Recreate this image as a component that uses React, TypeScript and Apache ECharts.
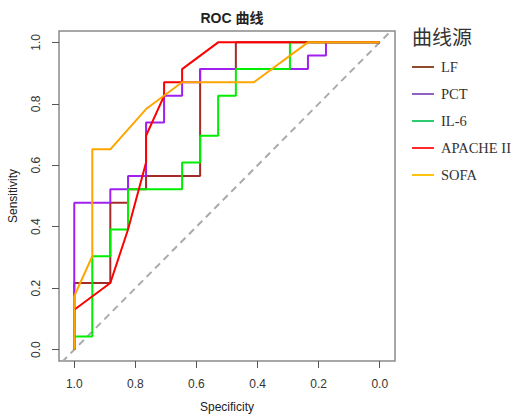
import React, { useEffect, useRef } from "react";
import * as echarts from "echarts";

const seriesNames = ["LF", "PCT", "IL-6", "APACHE II", "SOFA"];
const lineColors = ["#a52a2a", "#a020f0", "#00ee00", "#ff0000", "#ffa500"];
const legendColors = ["#8e4c2c", "#9060c4", "#2ecc71", "#ff2a2a", "#ffc20e"];

const lfSpec = [1, 1, 0.882, 0.882, 0.824, 0.824, 0.765, 0.765, 0.588, 0.588, 0.471, 0.471, 0];
const lfSens = [0, 0.217, 0.217, 0.478, 0.478, 0.522, 0.522, 0.565, 0.565, 0.913, 0.913, 1, 1];

const pctSpec = [1, 1, 0.882, 0.882, 0.824, 0.824, 0.765, 0.765, 0.706, 0.706, 0.647, 0.647, 0.588, 0.588, 0.235, 0.235, 0.176, 0.176, 0];
const pctSens = [0, 0.478, 0.478, 0.522, 0.522, 0.565, 0.565, 0.739, 0.739, 0.826, 0.826, 0.87, 0.87, 0.913, 0.913, 0.957, 0.957, 1, 1];

const il6Spec = [1, 1, 0.941, 0.941, 0.882, 0.882, 0.824, 0.824, 0.647, 0.647, 0.588, 0.588, 0.529, 0.529, 0.471, 0.471, 0.294, 0.294, 0];
const il6Sens = [0, 0.043, 0.043, 0.304, 0.304, 0.391, 0.391, 0.522, 0.522, 0.609, 0.609, 0.696, 0.696, 0.826, 0.826, 0.913, 0.913, 1, 1];

const apacheSpec = [1, 1, 0.882, 0.824, 0.765, 0.765, 0.706, 0.706, 0.647, 0.647, 0.529, 0];
const apacheSens = [0, 0.13, 0.217, 0.391, 0.609, 0.696, 0.826, 0.87, 0.87, 0.913, 1, 1];

const sofaSpec = [1, 1, 0.941, 0.941, 0.882, 0.765, 0.647, 0.412, 0.235, 0];
const sofaSens = [0, 0.174, 0.304, 0.652, 0.652, 0.783, 0.87, 0.87, 1, 1];

const tickValues = [0, 0.2, 0.4, 0.6, 0.8, 1.0];
const diagSpec = [1.04, -0.04];
const diagSens = [-0.04, 1.04];

const zip = (a: number[], b: number[]) => a.map((v, i) => [v, b[i]]);

const curveData = [
  zip(lfSpec, lfSens),
  zip(pctSpec, pctSens),
  zip(il6Spec, il6Sens),
  zip(apacheSpec, apacheSens),
  zip(sofaSpec, sofaSens),
];

const sans = "'Liberation Sans', Arial, 'Noto Sans CJK SC', sans-serif";
const serif = "'Liberation Serif', 'Times New Roman', serif";

export default function App() {
  const ref = useRef<HTMLDivElement>(null);
  useEffect(() => {
    if (!ref.current) return;
    const chart = echarts.init(ref.current, undefined, { renderer: "svg" });
    const option: any = {
      animation: false,
      backgroundColor: "#ffffff",
      title: {
        text: "ROC 曲线",
        left: 227,
        top: 6,
        textAlign: "center",
        textStyle: { fontFamily: sans, fontSize: 14, fontWeight: "bold", color: "#222" },
      },
      grid: {
        left: 59,
        top: 31,
        width: 336,
        height: 330,
        show: true,
        borderColor: "#8a8a8a",
        borderWidth: 1.5,
        containLabel: false,
      },
      xAxis: {
        type: "value",
        min: -0.05,
        max: 1.05,
        inverse: true,
        splitLine: { show: false },
        axisLine: { show: false, onZero: false },
        axisTick: { show: true, length: 7, customValues: tickValues, lineStyle: { color: "#555", width: 1 } },
        axisLabel: {
          customValues: tickValues,
          formatter: (v: number) => v.toFixed(1),
          margin: 17,
          fontSize: 12,
          fontFamily: sans,
          color: "#333",
        },
      },
      yAxis: {
        type: "value",
        min: -0.037,
        max: 1.037,
        splitLine: { show: false },
        axisLine: { show: false, onZero: false },
        axisTick: { show: true, length: 7, customValues: tickValues, lineStyle: { color: "#555", width: 1 } },
        axisLabel: {
          customValues: tickValues,
          formatter: (v: number) => v.toFixed(1),
          rotate: 90,
          margin: 17,
          fontSize: 12,
          fontFamily: sans,
          color: "#333",
        },
      },
      legend: {
        orient: "vertical",
        left: 412,
        top: 59,
        padding: 0,
        icon: "rect",
        itemWidth: 22,
        itemHeight: 2,
        itemGap: 11,
        selectedMode: false,
        textStyle: { fontFamily: serif, fontSize: 14.5, color: "#333", lineHeight: 16, padding: [0, 0, 0, 2] },
        data: seriesNames.map((n, i) => ({ name: n, itemStyle: { color: legendColors[i] } })),
      },
      graphic: [
        {
          type: "text",
          left: 412,
          top: 26,
          style: { text: "曲线源", fontFamily: "'Noto Sans CJK SC', sans-serif", fontSize: 20, fill: "#333" },
        },
        {
          type: "text",
          x: 227,
          y: 407,
          style: { text: "Specificity", fontFamily: sans, fontSize: 12, fill: "#222", textAlign: "center", textVerticalAlign: "middle" },
        },
        {
          type: "text",
          x: 13,
          y: 196,
          rotation: Math.PI / 2,
          style: { text: "Sensitivity", fontFamily: sans, fontSize: 12, fill: "#222", textAlign: "center", textVerticalAlign: "middle" },
        },
      ],
      series: [
        {
          name: "diag",
          type: "line",
          data: zip(diagSpec, diagSens),
          showSymbol: false,
          silent: true,
          lineStyle: { color: "#aaaaaa", width: 2, type: [7, 5] },
        },
        ...seriesNames.map((n, i) => ({
          name: n,
          type: "line",
          data: curveData[i],
          showSymbol: false,
          itemStyle: { color: lineColors[i] },
          lineStyle: { color: lineColors[i], width: 2 },
        })),
      ],
    };
    chart.setOption(option);
    return () => chart.dispose();
  }, []);
  return <div ref={ref} style={{ width: 516, height: 414, position: "absolute", left: 0, top: 0 }} />;
}
